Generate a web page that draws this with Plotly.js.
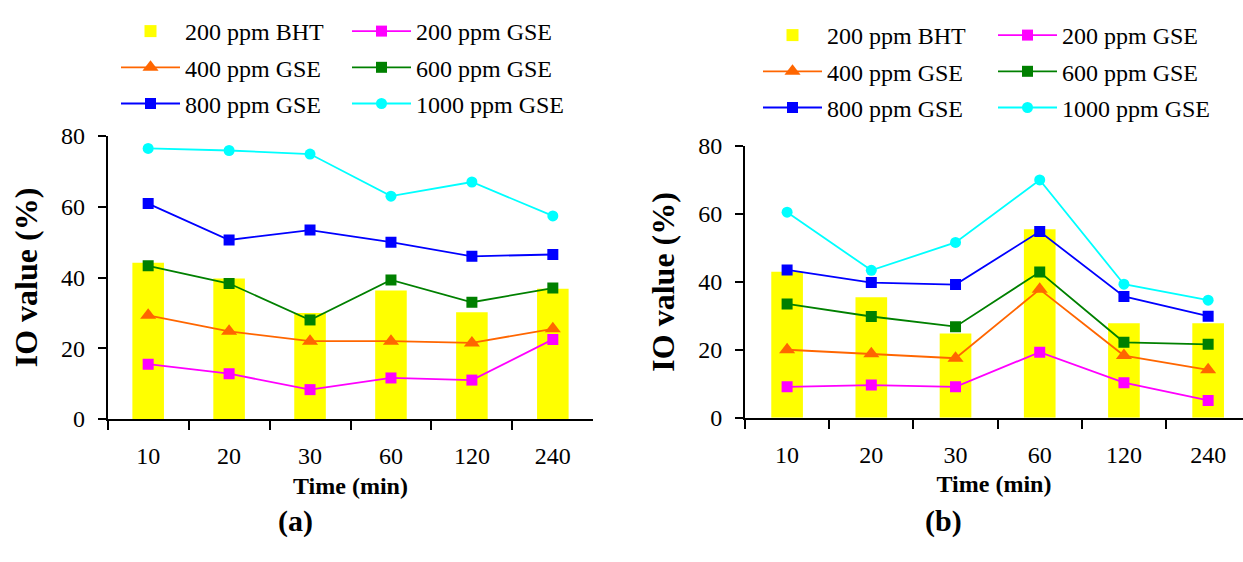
<!DOCTYPE html>
<html>
<head>
<meta charset="utf-8">
<script src="https://cdn.plot.ly/plotly-3.0.1.min.js"></script>
<style>html,body{margin:0;padding:0;background:#fff;}#chart{width:1243px;height:562px;}</style>
</head>
<body>
<div id="chart"></div>
<script>
// ---- data ----
const times = ['10', '20', '30', '60', '120', '240'];
const seriesNames = ['200 ppm BHT', '200 ppm GSE', '400 ppm GSE', '600 ppm GSE', '800 ppm GSE', '1000 ppm GSE'];

// panel (a)
const bhtA     = [44.2, 39.7, 30.0, 36.3, 30.2, 36.8];
const gse200A  = [15.5, 12.8, 8.3, 11.6, 11.0, 22.5];
const gse400A  = [29.3, 24.8, 22.0, 22.0, 21.5, 25.5];
const gse600A  = [43.3, 38.3, 28.0, 39.3, 33.0, 37.0];
const gse800A  = [60.9, 50.6, 53.4, 50.0, 46.0, 46.5];
const gse1000A = [76.5, 75.9, 74.9, 63.0, 67.0, 57.4];

// panel (b)
const bhtB     = [43.0, 35.5, 24.8, 55.5, 27.8, 27.8];
const gse200B  = [9.1, 9.6, 9.1, 19.3, 10.3, 5.1];
const gse400B  = [20.0, 18.8, 17.5, 37.8, 18.3, 14.1];
const gse600B  = [33.5, 29.8, 26.8, 42.9, 22.2, 21.6];
const gse800B  = [43.5, 39.8, 39.2, 54.8, 35.7, 29.9];
const gse1000B = [60.5, 43.4, 51.6, 70.0, 39.3, 34.6];

// ---- styles ----
const FONT = 'Liberation Serif, Times New Roman, serif';
const W = 1243, H = 562;
const lineStyles = {
  '200 ppm GSE':  {color: '#FF00FF', symbol: 'square',       size: 11},
  '400 ppm GSE':  {color: '#FF6600', symbol: 'triangle-up',  size: 14},
  '600 ppm GSE':  {color: '#008000', symbol: 'square',       size: 11},
  '800 ppm GSE':  {color: '#0000FF', symbol: 'square',       size: 11},
  '1000 ppm GSE': {color: '#00FFFF', symbol: 'circle',       size: 11}
};

function lineTrace(name, y, xa, ya, legend) {
  const s = lineStyles[name];
  return {
    type: 'scatter', mode: 'lines+markers', name: name, x: times, y: y,
    xaxis: xa, yaxis: ya, legend: legend, legendgroup: legend + name,
    line: {color: s.color, width: 1.8},
    marker: {color: s.color, symbol: s.symbol, size: s.size, line: {width: 0}},
    hoverinfo: 'skip'
  };
}
function barTrace(y, xa, ya, legend, width) {
  return {
    type: 'bar', name: seriesNames[0], x: times, y: y, xaxis: xa, yaxis: ya,
    legend: legend, legendgroup: legend + 'bht', width: width,
    marker: {color: '#FFFF00', line: {width: 0}}, hoverinfo: 'skip'
  };
}

const data = [
  barTrace(bhtA, 'x', 'y', 'legend', 0.39),
  lineTrace('200 ppm GSE', gse200A, 'x', 'y', 'legend2'),
  lineTrace('400 ppm GSE', gse400A, 'x', 'y', 'legend'),
  lineTrace('600 ppm GSE', gse600A, 'x', 'y', 'legend2'),
  lineTrace('800 ppm GSE', gse800A, 'x', 'y', 'legend'),
  lineTrace('1000 ppm GSE', gse1000A, 'x', 'y', 'legend2'),
  barTrace(bhtB, 'x2', 'y2', 'legend3', 0.376),
  lineTrace('200 ppm GSE', gse200B, 'x2', 'y2', 'legend4'),
  lineTrace('400 ppm GSE', gse400B, 'x2', 'y2', 'legend3'),
  lineTrace('600 ppm GSE', gse600B, 'x2', 'y2', 'legend4'),
  lineTrace('800 ppm GSE', gse800B, 'x2', 'y2', 'legend3'),
  lineTrace('1000 ppm GSE', gse1000B, 'x2', 'y2', 'legend4')
];

function xAxis(domain, range, anchor) {
  return {
    domain: domain, anchor: anchor, type: 'category', range: range,
    tickson: 'boundaries', ticks: 'outside', ticklen: 9, tickwidth: 2, tickcolor: '#000',
    showline: true, linecolor: '#000', linewidth: 2, showgrid: false, zeroline: false,
    tickfont: {family: FONT, size: 24, color: '#000'}, ticklabelstandoff: 14,
    title: {text: '<b>Time (min)</b>', font: {family: FONT, size: 24, color: '#000'}, standoff: 9},
    fixedrange: true
  };
}
function yAxis(domain, anchor) {
  return {
    domain: domain, anchor: anchor, range: [0, 80], dtick: 20, tick0: 0,
    ticks: 'outside', ticklen: 8, tickwidth: 2, tickcolor: '#000',
    showline: true, linecolor: '#000', linewidth: 2, showgrid: false, zeroline: false,
    tickfont: {family: FONT, size: 24, color: '#000'}, ticklabelstandoff: 8,
    title: {text: '<b>IO value (%)</b>', font: {family: FONT, size: 32, color: '#000'}, standoff: 14},
    fixedrange: true
  };
}
function legendAt(xpx, ypx) {
  return {
    x: xpx / W, y: 1 - ypx / H, xanchor: 'left', yanchor: 'top', orientation: 'v',
    bgcolor: 'rgba(0,0,0,0)', borderwidth: 0, traceorder: 'grouped', tracegroupgap: 2,
    itemwidth: 59, font: {family: FONT, size: 24, color: '#000'}
  };
}

const layout = {
  width: W, height: H,
  margin: {l: 0, r: 0, t: 0, b: 0},
  paper_bgcolor: '#fff', plot_bgcolor: 'rgba(0,0,0,0)',
  showlegend: true, hovermode: false,
  xaxis:  xAxis([107.7 / W, 593.3 / W], [-0.5, 5.5], 'y'),
  yaxis:  yAxis([(H - 419) / H, (H - 136) / H], 'x'),
  xaxis2: xAxis([745 / W, 1], [-0.5, 5.414], 'y2'),
  yaxis2: yAxis([(H - 417.7) / H, (H - 146) / H], 'x2'),
  legend:  legendAt(116, 9),
  legend2: legendAt(347, 9),
  legend3: legendAt(758, 13),
  legend4: legendAt(993, 13),
  annotations: [
    {text: '<b>(a)</b>', x: 295 / W, y: 1 - 521 / H, xref: 'paper', yref: 'paper',
     xanchor: 'center', yanchor: 'middle', showarrow: false, font: {family: FONT, size: 30, color: '#000'}},
    {text: '<b>(b)</b>', x: 943 / W, y: 1 - 521 / H, xref: 'paper', yref: 'paper',
     xanchor: 'center', yanchor: 'middle', showarrow: false, font: {family: FONT, size: 30, color: '#000'}}
  ]
};

Plotly.newPlot('chart', data, layout, {displayModeBar: false, staticPlot: true});
</script>
</body>
</html>
